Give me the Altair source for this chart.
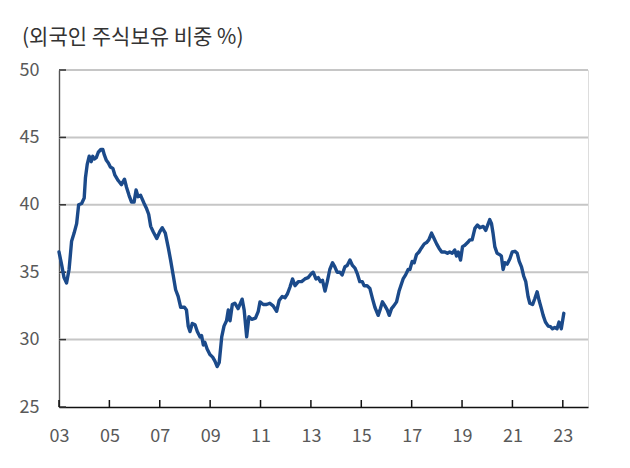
import altair as alt
import pandas as pd

# Foreign ownership share of Korean stocks (%)
years = [
    2003.00, 2003.10, 2003.20, 2003.30, 2003.40, 2003.50, 2003.60, 2003.70, 2003.78, 2003.90,
    2004.00, 2004.05, 2004.12, 2004.20, 2004.28, 2004.34, 2004.40, 2004.48, 2004.56, 2004.66,
    2004.74, 2004.80, 2004.88, 2004.96, 2005.04, 2005.14, 2005.22, 2005.35, 2005.48, 2005.60,
    2005.68, 2005.78, 2005.88, 2005.98, 2006.06, 2006.14, 2006.24, 2006.38, 2006.48, 2006.56,
    2006.64, 2006.74, 2006.88, 2007.00, 2007.10, 2007.22, 2007.34, 2007.43, 2007.54, 2007.63,
    2007.73, 2007.83, 2007.98, 2008.06, 2008.13, 2008.20, 2008.29, 2008.40, 2008.49, 2008.60,
    2008.66, 2008.73, 2008.79, 2008.88, 2008.99, 2009.10, 2009.19, 2009.28, 2009.36, 2009.46,
    2009.55, 2009.65, 2009.72, 2009.79, 2009.88, 2009.98, 2010.11, 2010.18, 2010.27, 2010.35,
    2010.45, 2010.54, 2010.65, 2010.80, 2010.91, 2010.98, 2011.11, 2011.24, 2011.37, 2011.50,
    2011.64, 2011.74, 2011.86, 2011.97, 2012.07, 2012.17, 2012.27, 2012.37, 2012.50, 2012.63,
    2012.76, 2012.89, 2013.02, 2013.09, 2013.20, 2013.29, 2013.38, 2013.46, 2013.56, 2013.65,
    2013.75, 2013.86, 2013.95, 2014.04, 2014.15, 2014.24, 2014.35, 2014.44, 2014.55, 2014.65,
    2014.75, 2014.84, 2014.94, 2015.04, 2015.11, 2015.23, 2015.34, 2015.45, 2015.54, 2015.67,
    2015.76, 2015.84, 2015.94, 2016.03, 2016.11, 2016.20, 2016.29, 2016.40, 2016.50, 2016.57,
    2016.66, 2016.76, 2016.86, 2016.93, 2017.02, 2017.10, 2017.19, 2017.29, 2017.39, 2017.50,
    2017.59, 2017.68, 2017.79, 2017.89, 2017.99, 2018.08, 2018.19, 2018.32, 2018.42, 2018.51,
    2018.61, 2018.71, 2018.78, 2018.85, 2018.94, 2019.02, 2019.11, 2019.22, 2019.31, 2019.40,
    2019.51, 2019.61, 2019.71, 2019.84, 2019.94, 2020.04, 2020.10, 2020.17, 2020.23, 2020.30,
    2020.39, 2020.50, 2020.56, 2020.63, 2020.70, 2020.79, 2020.90, 2020.99, 2021.10, 2021.19,
    2021.27, 2021.36, 2021.45, 2021.53, 2021.62, 2021.69, 2021.80, 2021.89, 2021.98, 2022.06,
    2022.15, 2022.22, 2022.31, 2022.42, 2022.51, 2022.59, 2022.68, 2022.77, 2022.85, 2022.94,
    2023.04,
]
values = [
    36.5, 35.6, 34.6, 34.2, 35.2, 37.3, 37.9, 38.6, 40.0, 40.1,
    40.5, 42.0, 43.0, 43.6, 43.2, 43.6, 43.4, 43.5, 43.9, 44.1,
    44.1, 43.7, 43.3, 43.1, 42.8, 42.7, 42.2, 41.8, 41.5, 41.9,
    41.3, 40.7, 40.2, 40.2, 41.1, 40.6, 40.7, 40.1, 39.7, 39.3,
    38.4, 38.0, 37.5, 38.0, 38.3, 37.9, 36.8, 35.9, 34.7, 33.7,
    33.2, 32.4, 32.4, 32.2, 31.0, 30.6, 31.2, 31.1, 30.6, 30.2,
    30.3, 29.6, 29.8, 29.3, 28.9, 28.7, 28.4, 28.0, 28.3, 30.2,
    31.0, 31.4, 32.2, 31.4, 32.6, 32.7, 32.3, 32.6, 33.0, 32.2,
    30.2, 31.7, 31.5, 31.6, 32.1, 32.8, 32.6, 32.6, 32.7, 32.5,
    32.1, 32.9, 33.2, 33.1, 33.4, 33.9, 34.5, 34.0, 34.3, 34.3,
    34.5, 34.6, 34.9, 35.0, 34.5, 34.6, 34.3, 34.4, 33.6, 34.3,
    35.2, 35.7, 35.4, 35.0, 35.0, 34.8, 35.4, 35.5, 35.9, 35.5,
    35.3, 34.9, 34.3, 34.3, 34.0, 34.0, 33.8, 33.0, 32.4, 31.8,
    32.3, 32.8, 32.5, 32.2, 31.8, 32.3, 32.5, 32.8, 33.6, 34.0,
    34.5, 34.8, 35.2, 35.2, 35.8, 35.7, 36.3, 36.5, 36.8, 37.1,
    37.2, 37.4, 37.9, 37.5, 37.1, 36.8, 36.5, 36.5, 36.4, 36.5,
    36.4, 36.65, 36.2, 36.5, 35.9, 36.9, 37.0, 37.2, 37.4, 37.4,
    38.25, 38.5, 38.3, 38.4, 38.1, 38.6, 38.9, 38.6, 37.9, 36.9,
    36.4, 36.3, 36.2, 35.2, 35.7, 35.6, 36.0, 36.5, 36.55, 36.4,
    35.8, 35.4, 34.7, 34.3, 33.2, 32.7, 32.6, 33.05, 33.55, 32.9,
    32.3, 31.8, 31.3, 31.0, 30.96, 30.8, 30.9, 30.8, 31.3, 30.8,
    31.95,
]

tick_years = [2003, 2005, 2007, 2009, 2011, 2013, 2015, 2017, 2019, 2021, 2023]
y_ticks = [25, 30, 35, 40, 45, 50]
grid_values = [30, 35, 40, 45, 50]
title_text = "(외국인 주식보유 비중 %)"

FONT = "Noto Sans CJK KR"
LINE_COLOR = "#1b4a8a"

df = pd.DataFrame({"year": years, "value": values})
ticks_x_df = pd.DataFrame({"year": tick_years})
ticks_y_df = pd.DataFrame({"value": y_ticks})
grid_df = pd.DataFrame({"value": grid_values})

x_scale = alt.Scale(domain=[2003, 2024], nice=False, zero=False)
y_scale = alt.Scale(domain=[25, 50], nice=False, zero=False)

x_axis = alt.Axis(
    values=tick_years,
    labelExpr="slice(toString(datum.value), 2)",
    grid=False,
    ticks=False,
    labelFlush=False,
    domainColor="#111111",
    domainWidth=1.6,
    labelFont=FONT,
    labelFontSize=18,
    labelColor="#595959",
    labelPadding=20,
    title=None,
)
y_axis = alt.Axis(
    values=y_ticks,
    grid=False,
    ticks=False,
    labelFlush=False,
    domainColor="#555555",
    domainWidth=1.4,
    labelFont=FONT,
    labelFontSize=18,
    labelColor="#595959",
    labelPadding=20,
    title=None,
)

grid = alt.Chart(grid_df).mark_rule(color="#c6c6c6", strokeWidth=2).encode(
    y=alt.Y("value:Q", scale=y_scale, axis=y_axis),
    x=alt.value(0),
    x2=alt.value(529),
)

yticks = alt.Chart(ticks_y_df).mark_rule(color="#333333", strokeWidth=1.5).encode(
    y=alt.Y("value:Q", scale=y_scale),
    x=alt.value(0),
    x2=alt.value(7),
)

xticks = alt.Chart(ticks_x_df).mark_rule(color="#111111", strokeWidth=1.5).encode(
    x=alt.X("year:Q", scale=x_scale, axis=x_axis),
    y=alt.value(337),
    y2=alt.value(330),
)

line = alt.Chart(df).mark_line(
    color=LINE_COLOR, strokeWidth=3.4, strokeJoin="round", strokeCap="round"
).encode(
    x=alt.X("year:Q", scale=x_scale),
    y=alt.Y("value:Q", scale=y_scale),
)

chart = (
    alt.layer(grid, yticks, xticks, line)
    .properties(
        width=529,
        height=337,
        autosize=alt.AutoSizeParams(type="none"),
        padding={"left": 59, "top": 70, "right": 42, "bottom": 61},
        title=alt.TitleParams(
            text=title_text,
            anchor="start",
            frame="group",
            font=FONT,
            fontSize=21,
            fontWeight="normal",
            color="#333333",
            dx=-37,
            offset=13,
        ),
    )
    .configure_view(stroke=None)
    .configure(background="white")
)

chart.save("out.html", embed_options={"renderer": "svg", "actions": False})
